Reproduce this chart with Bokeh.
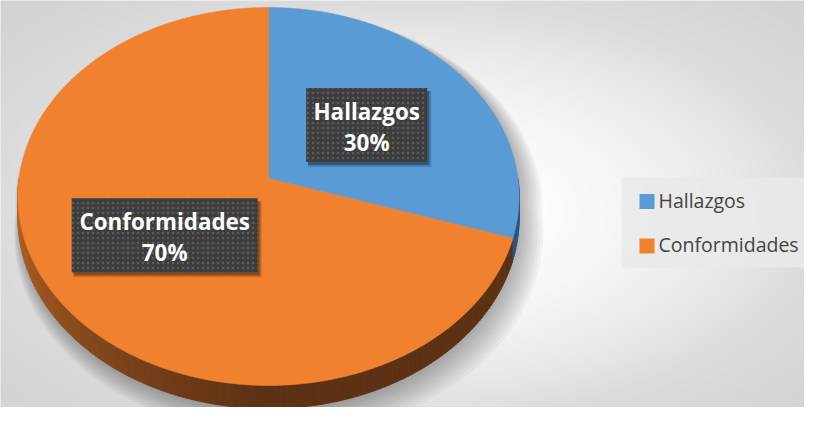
import numpy as np
from bokeh.plotting import figure
from bokeh.models import Range1d
from bokeh.core.properties import value
from bokeh.embed import file_html
from bokeh.resources import INLINE

# ---------------- data ----------------
categories = ["Hallazgos", "Conformidades"]
values = [30, 70]
top_colors = ["#5b9bd5", "#f0812f"]
side_light = ["#3f74a8", "#c46c27"]
side_dark = ["#2b5680", "#5c3114"]

# ---------------- layout / style ----------------
FW, FH = 804, 407               # figure size (px)
H_REF = 423
CX, CY = 268.0, 178.0           # projected pie centre (px)
A, B, K = 249.5, 187.3, 0.0952  # perspective ellipse parameters
DEPTH = 21.0                    # pie thickness
START = 90.0                    # first slice starts at 12 o'clock
BOX_W = [121, 186]
BOX_H = 74
TEXT_DY = -8.0                  # baseline correction for svg text


def Y(y):
    return H_REF - np.asarray(y, dtype=float)


def proj(theta_deg, r=1.0):
    t = np.radians(theta_deg)
    u = r * np.cos(t)
    v = r * np.sin(t)
    w = 1.0 + K * v
    return CX + A * u / w, CY - B * v / w, w


def hex2rgb(h):
    h = h.lstrip("#")
    return np.array([int(h[i:i + 2], 16) for i in (0, 2, 4)], dtype=float)


def rgb2hex(c):
    c = np.clip(np.round(c), 0, 255).astype(int)
    return "#%02x%02x%02x" % tuple(c)


p = figure(width=FW, height=FH, x_range=Range1d(0, FW), y_range=Range1d(H_REF - FH, H_REF),
           output_backend="svg", toolbar_location=None, min_border=0,
           x_axis_type=None, y_axis_type=None)
p.grid.visible = False
p.outline_line_color = None
p.background_fill_color = "#e6e6e6"
p.border_fill_color = "#e6e6e6"

# ---------------- background radial gradient ----------------
nx, ny = 402, 204
gx = np.linspace(0, FW, nx)
gy = np.linspace(FH, 0, ny)          # row 0 = bottom of the figure
GX, GY = np.meshgrid(gx, gy)
r = np.sqrt(((GX - 410) / 410) ** 2 + ((GY - 211) / 211) ** 2)
f = 35 * np.minimum(r, 1) ** 2 + 25 * (np.maximum(r, 1) - 1)
g = np.clip(255 - f, 0, 255).astype(np.uint32)
img = (255 << 24) | (g << 16) | (g << 8) | g
p.image_rgba(image=[img.astype(np.uint32)], x=0, y=H_REF - FH, dw=FW, dh=FH)

# ---------------- shadow ----------------
th_back = np.linspace(0, 180, 120)
th_front = np.linspace(180, 360, 120)
bx, by, _ = proj(th_back)
fx, fy, fw = proj(th_front)
sil_x = np.concatenate([bx, fx])
sil_y = np.concatenate([by, fy + DEPTH / fw])
for i in range(9):
    s = 1.0 + 0.007 * i
    dx = 2 + 1.0 * i
    dy = 3 + 1.6 * i
    xs = CX + (sil_x - CX) * s + dx
    ys = (CY + 40) + (sil_y - (CY + 40)) * s + dy
    p.patch(xs, Y(ys), fill_color="black", fill_alpha=0.035, line_color=None)

# ---------------- slice angle ranges ----------------
total = float(sum(values))
sweeps = [360.0 * v / total for v in values]
starts = [START - sum(sweeps[:i]) for i in range(len(values))]


def owner(theta):
    d = (START - theta) % 360.0
    acc = 0.0
    for i, sw in enumerate(sweeps):
        acc += sw
        if d < acc:
            return i
    return len(values) - 1


# ---------------- side wall ----------------
qxs, qys, qcol = [], [], []
step = 1.0
for t0 in np.arange(180.0, 360.0, step):
    t1 = t0 + step
    tm = 0.5 * (t0 + t1)
    i = owner(tm)
    x0, y0, w0 = proj(t0)
    x1, y1, w1 = proj(t1)
    qxs.append([x0, x1, x1, x0])
    qys.append(list(Y([y0, y1, y1 + DEPTH / w1, y0 + DEPTH / w0])))
    tt = np.clip((tm - 180.0) / 90.0, 0, 1) ** 0.8
    c = hex2rgb(side_light[i]) * (1 - tt) + hex2rgb(side_dark[i]) * tt
    qcol.append(rgb2hex(c))
p.patches(qxs, qys, fill_color=qcol, line_color=qcol, line_width=0.8)

# ---------------- top faces ----------------
for i, (st, sw) in enumerate(zip(starts, sweeps)):
    th = np.linspace(st, st - sw, max(int(sw * 2), 10))
    ax, ay, _ = proj(th)
    xs = np.concatenate([[CX], ax])
    ys = np.concatenate([[CY], ay])
    p.patch(xs, Y(ys), fill_color=top_colors[i], line_color=top_colors[i], line_width=0.5)

# ---------------- data labels ----------------
pcts = [int(round(100 * v / total)) for v in values]
mids = [st - sw / 2 for st, sw in zip(starts, sweeps)]
lx, ly = [], []
for m in mids:
    x, y, _ = proj(m, 0.5)
    lx.append(x)
    ly.append(y)
lx = np.array(lx)
ly = np.array(ly)

p.rect(x=lx + 3, y=Y(ly + 4), width=[w + 2 for w in BOX_W], height=BOX_H + 2,
       fill_color="black", fill_alpha=0.18, line_color=None)
p.rect(x=lx + 2, y=Y(ly + 3), width=BOX_W, height=BOX_H,
       fill_color="black", fill_alpha=0.3, line_color=None)
p.rect(x=lx, y=Y(ly), width=BOX_W, height=BOX_H, fill_color="#3d3d3d", line_color=None,
       hatch_pattern="dot", hatch_color="#5c5c5c", hatch_scale=5, hatch_weight=1.0)

p.text(x=lx, y=Y(ly - 5.5 + TEXT_DY), text=categories, text_font=value("Open Sans"),
       text_font_style="bold", text_font_size="22.4px", text_color="white",
       text_align="center", text_baseline="alphabetic")
p.text(x=lx, y=Y(ly + 25.5 + TEXT_DY), text=[f"{v}%" for v in pcts], text_font=value("Open Sans"),
       text_font_style="bold", text_font_size="22.4px", text_color="white",
       text_align="center", text_baseline="alphabetic")

# ---------------- legend ----------------
LEG_X = 621
p.quad(left=LEG_X, right=FW, top=Y(177), bottom=Y(267), fill_color="#e9e9e9",
       fill_alpha=0.85, line_color=None)
leg_y = np.array([201.0, 245.5])
p.rect(x=[LEG_X + 25.5] * len(categories), y=Y(leg_y), width=15, height=15,
       fill_color=top_colors, line_color=None)
p.text(x=[LEG_X + 37] * len(categories), y=Y(leg_y + 6.5 + TEXT_DY), text=categories,
       text_font=value("Open Sans"), text_font_size="19.5px", text_color="#454545",
       text_align="left", text_baseline="alphabetic")

open("out.html", "w").write(file_html(p, INLINE))
